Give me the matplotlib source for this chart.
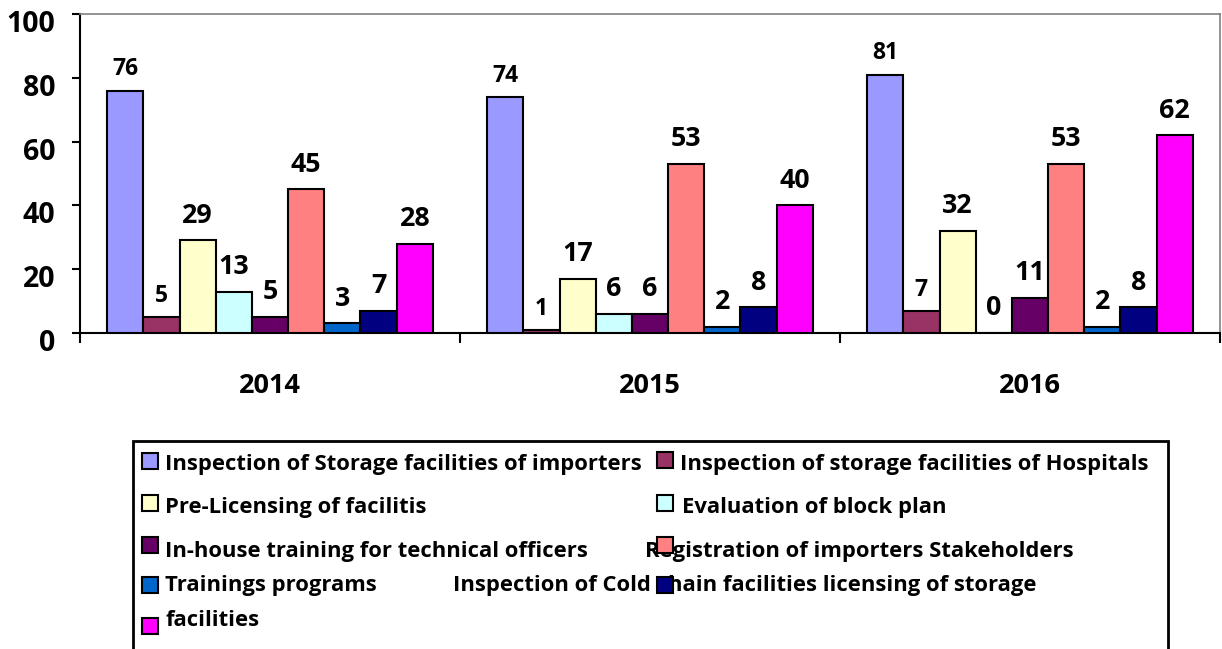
import matplotlib
matplotlib.use("Agg")
import matplotlib.pyplot as plt
from matplotlib.patches import Rectangle
from matplotlib.transforms import ScaledTranslation
import numpy as np

plt.rcParams['font.family'] = ['Open Sans', 'DejaVu Sans']
plt.rcParams['font.weight'] = 'bold'

years = ['2014', '2015', '2016']
series_names = [
    'Inspection of Storage facilities of importers',
    'Inspection of storage facilities of Hospitals',
    'Pre-Licensing of facilitis',
    'Evaluation of block plan',
    'In-house training for technical officers',
    'Registration of importers Stakeholders',
    'Trainings programs',
    'Inspection of Cold chain facilities',
    'licensing of storage facilities',
]
storage_importers = [76, 74, 81]
storage_hospitals = [5, 1, 7]
pre_licensing = [29, 17, 32]
block_plan = [13, 6, 0]
inhouse_training = [5, 6, 11]
registration = [45, 53, 53]
trainings = [3, 2, 2]
cold_chain = [7, 8, 8]
licensing_storage = [28, 40, 62]
series_values = [storage_importers, storage_hospitals, pre_licensing, block_plan,
                 inhouse_training, registration, trainings, cold_chain, licensing_storage]
colors = ['#9999FF', '#993366', '#FFFFCC', '#CCFFFF', '#660066',
          '#FF8080', '#0066CC', '#000080', '#FF00FF']
yticks = [0, 20, 40, 60, 80, 100]

W, H = 1222, 649
fig = plt.figure(figsize=(W / 100, H / 100), dpi=100)
ax = fig.add_axes([80 / W, 1 - 333 / H, 1140 / W, 319 / H])

n = len(series_values)
bw = 1.0 / (n + 1.5)
xc = np.arange(len(years)) + 0.5
for i, vals in enumerate(series_values):
    xs = xc + (i - (n - 1) / 2) * bw
    ax.bar(xs, vals, bw, color=colors[i], edgecolor='black', linewidth=1.5, zorder=3)
    small = i < 2
    for x, v in zip(xs, vals):
        ax.annotate(str(v), (x, v), xytext=(0, 10.9 if small else 12.7),
                    textcoords='offset points', ha='center', va='baseline',
                    fontsize=16.5 if small else 19.3, fontweight='bold', zorder=4)

ax.set_xlim(0, len(years))
ax.set_ylim(0, 100)
ax.set_yticks(yticks)
ax.set_yticklabels([str(t) for t in yticks], fontsize=20.5, fontweight='bold')
ax.tick_params(axis='y', direction='out', length=6, width=1.5, pad=12)
for lab in ax.get_yticklabels():
    lab.set_transform(lab.get_transform() + ScaledTranslation(0, -7 / 100, fig.dpi_scale_trans))

ax.set_xticks(np.arange(len(years) + 1))
ax.set_xticklabels([])
ax.tick_params(axis='x', which='major', direction='out', length=7.5, width=1.5)
ax.set_xticks(xc, minor=True)
ax.set_xticklabels(years, minor=True, fontsize=19.5, fontweight='bold')
ax.tick_params(axis='x', which='minor', length=0, pad=29)

for s in ['left', 'bottom']:
    ax.spines[s].set_color('black')
    ax.spines[s].set_linewidth(1.5)
for s in ['top', 'right']:
    ax.spines[s].set_color('#808080')
    ax.spines[s].set_linewidth(1.2)


def fx(x):
    return x / W


def fy(y):
    return 1 - y / H


# legend frame (extends past the bottom edge as in the reference)
fig.add_artist(Rectangle((fx(133), fy(660)), fx(1168) - fx(133), fy(441) - fy(660),
                         transform=fig.transFigure, facecolor='white',
                         edgecolor='black', linewidth=2, zorder=1))

leg_fs = 15.8
markers = [(142, 453), (657, 452), (142, 495), (657, 495), (142, 537), (657, 537),
           (142, 577), (657, 577), (142, 618)]
texts = [
    (165, 470, series_names[0]),
    (680, 470, series_names[1]),
    (165, 513.5, series_names[2]),
    (682, 513.5, series_names[3]),
    (165, 556.5, series_names[4]),
    (645, 556.5, series_names[5]),
    (165, 591.5, series_names[6]),
    (453, 591.5, series_names[7] + ' ' + series_names[8].rsplit(' ', 1)[0]),
    (165, 626, series_names[8].rsplit(' ', 1)[1]),
]
for (tx, ty, t) in texts:
    fig.text(fx(tx), fy(ty), t, fontsize=leg_fs, fontweight='bold', ha='left',
             va='baseline', zorder=2)
for i, (mx, my) in enumerate(markers):
    fig.add_artist(Rectangle((fx(mx), fy(my + 16)), fx(16), 16 / H,
                             transform=fig.transFigure, facecolor=colors[i],
                             edgecolor='black', linewidth=1.5, zorder=3))

fig.savefig('out.png', dpi=100)
